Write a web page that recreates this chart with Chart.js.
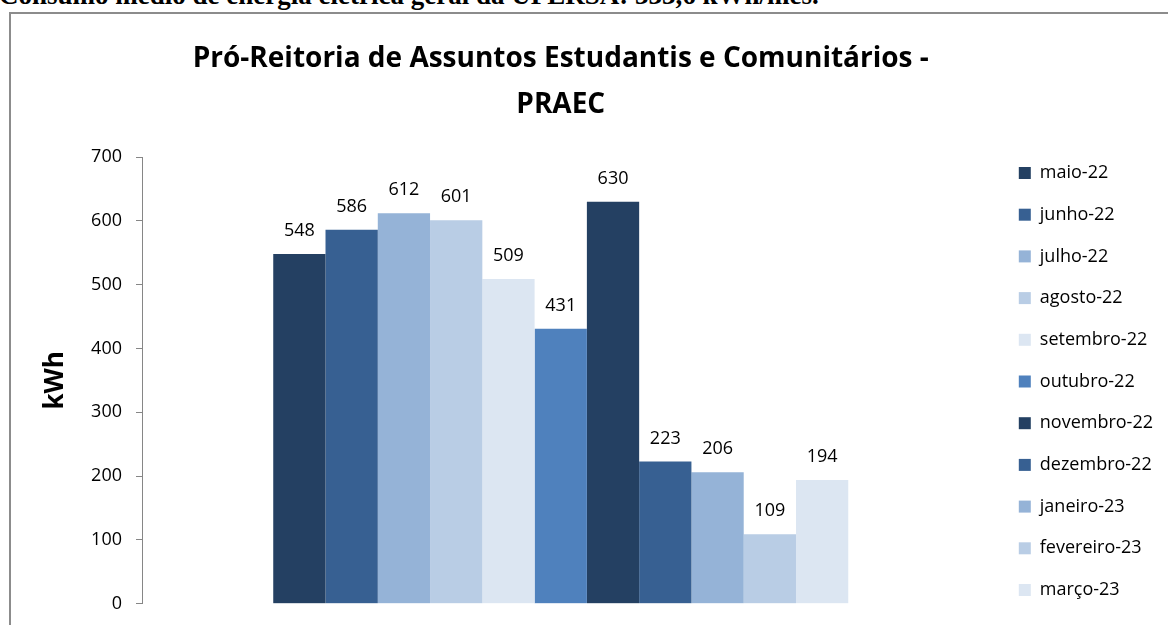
<!DOCTYPE html>
<html>
<head>
<meta charset="utf-8">
<script src="https://cdn.jsdelivr.net/npm/chart.js@4.4.0/dist/chart.umd.min.js"></script>
<style>
  html, body { margin: 0; padding: 0; background: #fff; overflow: hidden; }
  #wrap { position: relative; width: 1168px; height: 625px; overflow: hidden; }
  #note { position: absolute; left: -1px; top: -18px; font: bold 27px "Liberation Serif", serif; line-height: 27px; white-space: nowrap; color: #000; }
  #frame { position: absolute; left: 9px; top: 12px; width: 1200px; height: 700px; border: 2px solid #8c8c8c; }
  #myChart { position: absolute; left: 0; top: 0; }
</style>
</head>
<body>
<div id="wrap">
  <div id="note">Consumo médio de energia elétrica geral da UFERSA: 333,6 kWh/mês.</div>
  <div id="frame"></div>
  <canvas id="myChart" width="1168" height="625"></canvas>
</div>
<script>
const months = [
  "maio-22",
  "junho-22",
  "julho-22",
  "agosto-22",
  "setembro-22",
  "outubro-22",
  "novembro-22",
  "dezembro-22",
  "janeiro-23",
  "fevereiro-23",
  "março-23",
];
const consumo = [548, 586, 612, 601, 509, 431, 630, 223, 206, 109, 194];
const barColors = [
  "#244062",
  "#376092",
  "#95b3d7",
  "#b9cde5",
  "#dce6f2",
  "#4f81bd",
  "#244062",
  "#376092",
  "#95b3d7",
  "#b9cde5",
  "#dce6f2",
];
const titleLines = ["Pró-Reitoria de Assuntos Estudantis e Comunitários -", "PRAEC"];
const yTitle = "kWh";
const yMax = 700;
const yStep = 100;

const fontFamily = '"Open Sans", sans-serif';
const ctx = document.getElementById("myChart").getContext("2d");

// numbers above each bar
const valueLabels = {
  id: "valueLabels",
  afterDatasetsDraw(chart) {
    const c = chart.ctx;
    c.save();
    c.font = "18px " + fontFamily;
    c.fillStyle = "#000";
    c.textAlign = "center";
    c.textBaseline = "middle";
    chart.data.datasets.forEach((ds, i) => {
      chart.getDatasetMeta(i).data.forEach((bar, j) => {
        c.fillText(ds.data[j], bar.x, bar.y - 23);
      });
    });
    c.restore();
  },
};

let datasets = [];
for (let i = 0; i < months.length; i++) {
  datasets.push({
    label: months[i],
    data: [consumo[i]],
    backgroundColor: barColors[i],
    borderWidth: 0,
    categoryPercentage: 0.6866,
    barPercentage: 1.0,
  });
}

const myChart = new Chart(ctx, {
  type: "bar",
  plugins: [valueLabels],
  data: {
    labels: [""],
    datasets: datasets,
  },
  options: {
    responsive: false,
    animation: false,
    devicePixelRatio: 1,
    layout: { padding: { left: 0, right: 5, top: 0, bottom: 0 } },
    plugins: {
      tooltip: { enabled: false },
      title: {
        display: true,
        fullSize: false,
        text: titleLines,
        color: "#000",
        font: { family: fontFamily, size: 28, weight: "bold", lineHeight: 46 / 28 },
        padding: { top: 36, bottom: 29 },
      },
      legend: {
        position: "right",
        fullSize: true,
        align: "start",
        title: {
          display: true,
          text: " ",
          font: { size: 12, lineHeight: 1 },
          padding: { top: 128.3, bottom: 0 },
        },
        labels: {
          boxWidth: 12,
          boxHeight: 12,
          padding: 23.7,
          color: "#000",
          font: { family: fontFamily, size: 18 },
        },
      },
    },
    scales: {
      x: {
        display: true,
        grid: { display: false },
        border: { display: false },
        ticks: { display: false },
        afterFit(s) {
          s.height = 21;
        },
      },
      y: {
        min: 0,
        max: yMax,
        ticks: {
          stepSize: yStep,
          color: "#000",
          padding: 14,
          font: { family: fontFamily, size: 18, lineHeight: 0.8 },
        },
        grid: {
          drawOnChartArea: false,
          drawTicks: true,
          tickLength: 6,
          color: "#868686",
        },
        border: { display: true, color: "#868686", width: 1 },
        title: {
          display: true,
          text: yTitle,
          color: "#000",
          font: { family: fontFamily, size: 26, weight: "bold", lineHeight: 1.2 },
          padding: { top: 40.4, bottom: 0 },
        },
        afterFit(s) {
          s.width = 142;
        },
      },
      gap: {
        position: "right",
        display: true,
        grid: { display: false },
        border: { display: false },
        ticks: { display: false },
        afterFit(s) {
          s.width = 15.6;
        },
      },
    },
  },
});
</script>
</body>
</html>
